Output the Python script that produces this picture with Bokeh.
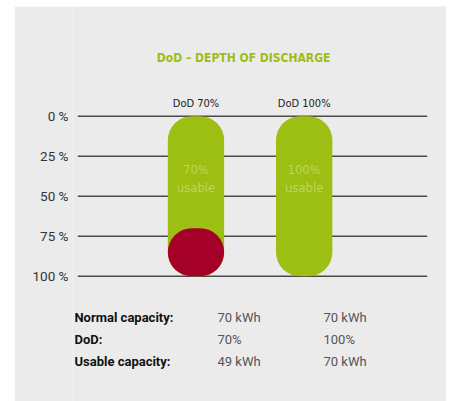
from bokeh.plotting import figure
from bokeh.models import Range1d, FixedTicker, ColumnDataSource
from bokeh.core.properties import value
from bokeh.embed import file_html
from bokeh.resources import INLINE

# ---- data ----
title = "DoD – DEPTH OF DISCHARGE"
scenarios = ["DoD 70%", "DoD 100%"]
dod_pct = [70, 100]            # usable share (%)
reserve_pct = [30, 0]          # not usable share (%)
inner_top = ["70%", "100%"]
inner_bottom = ["usable", "usable"]
y_ticks = [0, 25, 50, 75, 100]
y_tick_labels = ["0 %", "25 %", "50 %", "75 %", "100 %"]
row_labels = ["Normal capacity:", "DoD:", "Usable capacity:"]
col_70 = ["70 kWh", "70%", "49 kWh"]
col_100 = ["70 kWh", "100%", "70 kWh"]

GREEN = "#9dbe12"
RED = "#a50028"
BG = "#ebebeb"
NARROW = "'DejaVu Sans Condensed', Roboto, sans-serif"

xs = list(range(len(scenarios)))

p = figure(width=432, height=395, output_backend="svg", toolbar_location=None,
           x_range=Range1d(-1.141, 2.315), y_range=Range1d(178.3, -68.56),
           x_axis_location=None, y_axis_location="left",
           min_border_left=58, min_border_right=0, min_border_top=0, min_border_bottom=0,
           background_fill_color=BG, border_fill_color=BG, outline_line_color=None,
           styles={"margin-left": "14px", "margin-top": "6px"})

# axis
p.yaxis.ticker = FixedTicker(ticks=y_ticks)
p.yaxis.major_label_overrides = {t: l for t, l in zip(y_ticks, y_tick_labels)}
p.yaxis.axis_line_color = None
p.yaxis.major_tick_line_color = None
p.yaxis.minor_tick_line_color = None
p.yaxis.major_tick_out = 0
p.yaxis.major_tick_in = 0
p.yaxis.major_label_standoff = 4
p.yaxis.major_label_text_font = "Roboto"
p.yaxis.major_label_text_font_size = "13.5px"
p.yaxis.major_label_text_color = "#333333"
p.grid.visible = False

# horizontal reference lines at the tick values
p.segment(x0=-1.092, x1=2.137, y0=y_ticks, y1=y_ticks, line_color="#4a4a4a", line_width=1.6)

# bars: full tube (green) and non-usable reserve (red)
src = ColumnDataSource(dict(x=xs, dod=dod_pct, reserve=reserve_pct,
                            t1=inner_top, t2=inner_bottom, name=scenarios))
p.vbar(x="x", width=0.52, top=0, bottom=100, source=src, fill_color=GREEN,
       line_color=None, border_radius=24)
red = ColumnDataSource(dict(x=[x for x, r in zip(xs, reserve_pct) if r > 0],
                            top=[100 - r for r in reserve_pct if r > 0]))
p.vbar(x="x", width=0.52, top="top", bottom=100, source=red, fill_color=RED,
       line_color=None, border_radius=24)

p.text(x="x", y=33.5, text="t1", source=src, text_font=value(NARROW),
       text_font_size="13px", text_color="#bfd65a", text_align="center",
       text_baseline="middle")
p.text(x="x", y=44.3, text="t2", source=src, text_font=value(NARROW),
       text_font_size="13px", text_color="#bfd65a", text_align="center",
       text_baseline="middle")

# title & headers
p.text(x=[0.44], y=[-36.1], text=[title], text_font=value(NARROW), text_font_style="bold",
       text_font_size="12px", text_color=GREEN, text_align="center", text_baseline="middle")
p.text(x="x", y=-7.9, text="name", source=src, text_font=value(NARROW),
       text_font_size="11px", text_color="#222222", text_align="center",
       text_baseline="middle")

# table
tab = ColumnDataSource(dict(y=[125.8, 139.6, 153.3], a=row_labels, b=col_70, c=col_100))
p.text(x=-1.123, y="y", text="a", source=tab, text_font=value("Roboto"),
       text_font_style="bold", text_font_size="13px", text_color="#111111",
       text_baseline="middle")
p.text(x=0.199, y="y", text="b", source=tab, text_font=value("Roboto"),
       text_font_size="13px", text_color="#555555", text_baseline="middle")
p.text(x=1.178, y="y", text="c", source=tab, text_font=value("Roboto"),
       text_font_size="13px", text_color="#555555", text_baseline="middle")

open("out.html", "w").write(file_html(p, INLINE))
